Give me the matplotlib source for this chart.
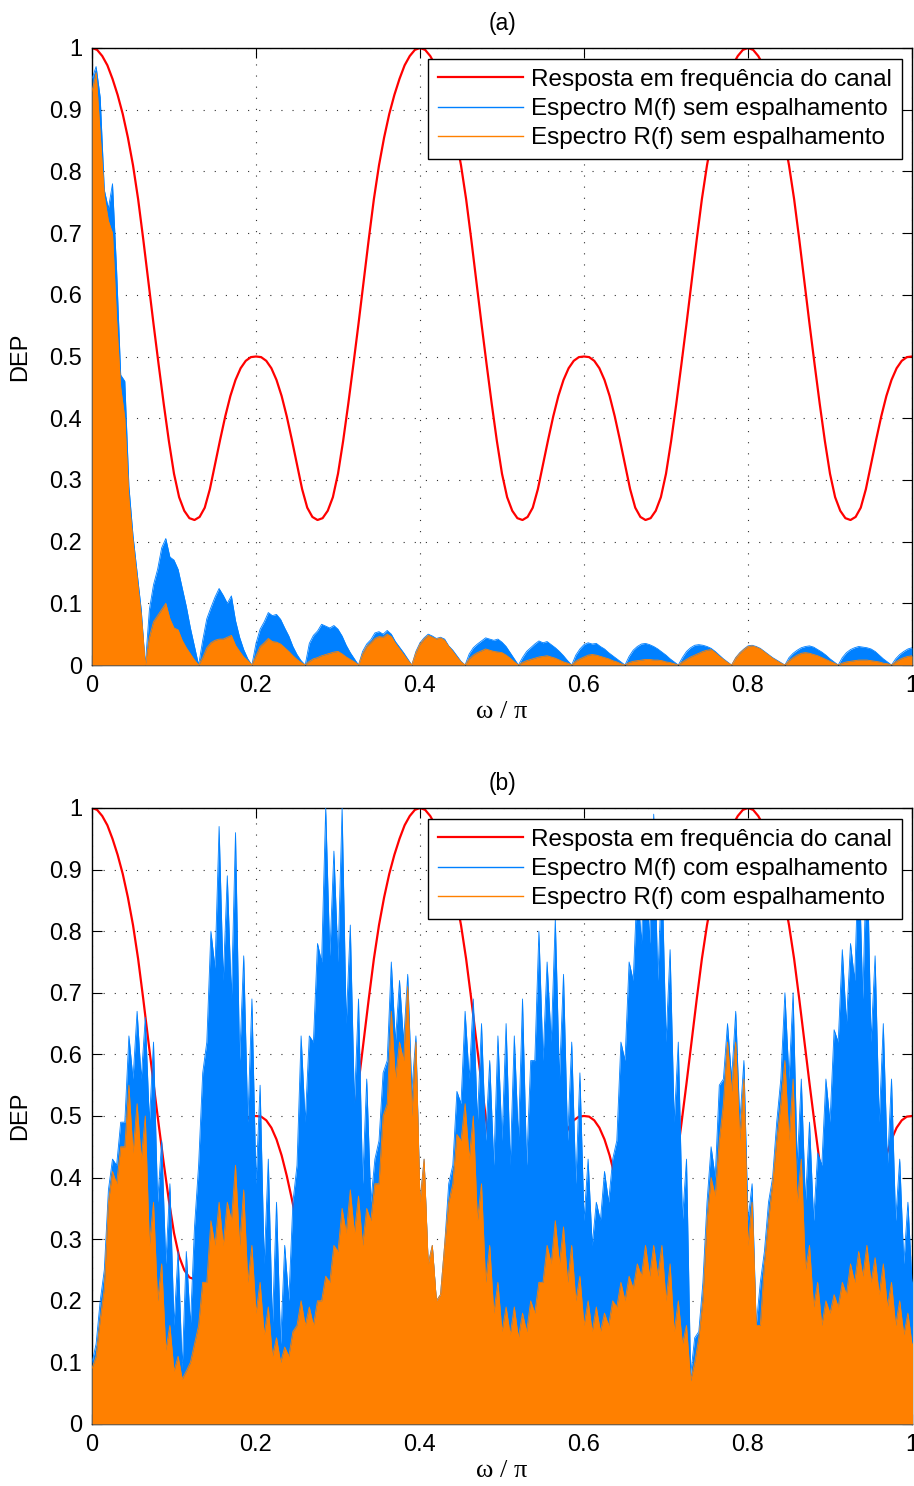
import numpy as np
import matplotlib
matplotlib.use("Agg")
import matplotlib.pyplot as plt
from matplotlib.lines import Line2D

# ---------------- data ----------------
# channel frequency response, sampled every 0.00625 in w/pi
red_resp = [
    1.000, 0.997, 0.987, 0.972, 0.950, 0.924, 0.893, 0.855, 0.810, 0.755, 0.690, 0.621, 0.553, 0.487, 0.423, 0.363,
    0.310, 0.272, 0.250, 0.238, 0.235, 0.240, 0.255, 0.285, 0.325, 0.365, 0.403, 0.436, 0.462, 0.481, 0.493, 0.499, 0.500,
    0.499, 0.493, 0.481, 0.462, 0.436, 0.403, 0.365, 0.325, 0.285, 0.255, 0.240, 0.235, 0.238, 0.250, 0.272, 0.310,
    0.363, 0.423, 0.487, 0.553, 0.621, 0.690, 0.755, 0.810, 0.855, 0.893, 0.924, 0.950, 0.972, 0.987, 0.997, 1.000,
    0.997, 0.987, 0.972, 0.950, 0.924, 0.893, 0.855, 0.810, 0.755, 0.690, 0.621, 0.553, 0.487, 0.423, 0.363,
    0.310, 0.272, 0.250, 0.238, 0.235, 0.240, 0.255, 0.285, 0.325, 0.365, 0.403, 0.436, 0.462, 0.481, 0.493, 0.499, 0.500,
    0.499, 0.493, 0.481, 0.462, 0.436, 0.403, 0.365, 0.325, 0.285, 0.255, 0.240, 0.235, 0.238, 0.250, 0.272, 0.310,
    0.363, 0.423, 0.487, 0.553, 0.621, 0.690, 0.755, 0.810, 0.855, 0.893, 0.924, 0.950, 0.972, 0.987, 0.997, 1.000,
    0.997, 0.987, 0.972, 0.950, 0.924, 0.893, 0.855, 0.810, 0.755, 0.690, 0.621, 0.553, 0.487, 0.423, 0.363,
    0.310, 0.272, 0.250, 0.238, 0.235, 0.240, 0.255, 0.285, 0.325, 0.365, 0.403, 0.436, 0.462, 0.481, 0.493, 0.499, 0.500,
]

# panel (a): spectra without spreading, sampled every 0.005 in w/pi
blue_a = [
    0.95, 0.97, 0.92, 0.77, 0.74, 0.78, 0.64, 0.47, 0.46, 0.29, 0.21, 0.15, 0.09,
    0.0, 0.09, 0.13, 0.155, 0.19, 0.205, 0.175, 0.17, 0.155, 0.125, 0.095, 0.06, 0.03,
    0.0, 0.04, 0.075, 0.093, 0.11, 0.124, 0.113, 0.10, 0.112, 0.072, 0.045, 0.025, 0.01,
    0.0, 0.035, 0.058, 0.07, 0.085, 0.08, 0.082, 0.074, 0.06, 0.047, 0.03, 0.017, 0.007,
    0.0, 0.035, 0.048, 0.055, 0.066, 0.063, 0.06, 0.064, 0.058, 0.047, 0.032, 0.02, 0.01,
    0.0, 0.022, 0.034, 0.041, 0.052, 0.054, 0.05, 0.056, 0.05, 0.038, 0.029, 0.02, 0.01,
    0.0, 0.022, 0.036, 0.044, 0.05, 0.047, 0.043, 0.045, 0.042, 0.031, 0.024, 0.015, 0.006,
    0.0, 0.018, 0.028, 0.034, 0.039, 0.044, 0.042, 0.04, 0.042, 0.037, 0.03, 0.02, 0.01,
    0.0, 0.012, 0.022, 0.028, 0.034, 0.039, 0.036, 0.038, 0.033, 0.028, 0.022, 0.015, 0.007,
    0.0, 0.016, 0.026, 0.033, 0.036, 0.034, 0.035, 0.03, 0.026, 0.02, 0.015, 0.01, 0.005,
    0.0, 0.014, 0.024, 0.03, 0.034, 0.035, 0.033, 0.03, 0.026, 0.021, 0.016, 0.01, 0.005,
    0.0, 0.012, 0.022, 0.028, 0.032, 0.033, 0.032, 0.03, 0.027, 0.022, 0.016, 0.01, 0.005,
    0.0, 0.012, 0.02, 0.026, 0.031, 0.032, 0.03, 0.027, 0.022, 0.017, 0.012, 0.008, 0.004,
    0.0, 0.012, 0.019, 0.024, 0.028, 0.03, 0.031, 0.029, 0.025, 0.021, 0.016, 0.01, 0.005,
    0.0, 0.012, 0.02, 0.025, 0.028, 0.03, 0.029, 0.028, 0.026, 0.022, 0.016, 0.01, 0.005,
    0.0, 0.01, 0.017, 0.022, 0.026, 0.028,
]
orange_a = [
    0.93, 0.96, 0.86, 0.76, 0.72, 0.70, 0.56, 0.45, 0.40, 0.27, 0.20, 0.14, 0.08,
    0.0, 0.045, 0.07, 0.08, 0.09, 0.10, 0.075, 0.06, 0.057, 0.04, 0.028, 0.018, 0.008,
    0.0, 0.012, 0.028, 0.036, 0.04, 0.042, 0.042, 0.045, 0.048, 0.032, 0.022, 0.013, 0.007,
    0.0, 0.015, 0.03, 0.036, 0.043, 0.038, 0.037, 0.034, 0.028, 0.022, 0.015, 0.009, 0.004,
    0.0, 0.006, 0.01, 0.012, 0.015, 0.017, 0.019, 0.021, 0.022, 0.018, 0.013, 0.009, 0.005,
    0.0, 0.018, 0.03, 0.036, 0.043, 0.046, 0.045, 0.05, 0.046, 0.035, 0.026, 0.017, 0.008,
    0.0, 0.02, 0.034, 0.042, 0.048, 0.045, 0.042, 0.044, 0.04, 0.03, 0.022, 0.013, 0.005,
    0.0, 0.01, 0.016, 0.02, 0.023, 0.026, 0.024, 0.022, 0.021, 0.02, 0.016, 0.011, 0.005,
    0.0, 0.004, 0.007, 0.009, 0.011, 0.013, 0.014, 0.015, 0.013, 0.011, 0.008, 0.005, 0.003,
    0.0, 0.006, 0.01, 0.013, 0.016, 0.017, 0.016, 0.014, 0.012, 0.01, 0.007, 0.005, 0.002,
    0.0, 0.004, 0.006, 0.007, 0.008, 0.009, 0.009, 0.008, 0.008, 0.007, 0.005, 0.004, 0.002,
    0.0, 0.005, 0.009, 0.013, 0.016, 0.019, 0.022, 0.024, 0.025, 0.02, 0.014, 0.009, 0.004,
    0.0, 0.011, 0.019, 0.025, 0.03, 0.031, 0.029, 0.026, 0.021, 0.016, 0.011, 0.007, 0.003,
    0.0, 0.007, 0.012, 0.016, 0.019, 0.02, 0.019, 0.017, 0.015, 0.012, 0.009, 0.006, 0.003,
    0.0, 0.003, 0.005, 0.006, 0.007, 0.008, 0.008, 0.008, 0.007, 0.006, 0.005, 0.003, 0.002,
    0.0, 0.005, 0.009, 0.012, 0.014, 0.015,
]

# panel (b): spectra with spreading, sampled every 0.01 in w/pi (spike tops and dense level)
blue_top_b = [
    0.13, 0.25, 0.43, 0.49, 0.63, 0.67, 0.66, 0.62, 0.46, 0.39,
    0.28, 0.28, 0.32, 0.57, 0.80, 0.97, 0.89, 0.96, 0.76, 0.69,
    0.55, 0.43, 0.36, 0.29, 0.36, 0.63, 0.63, 0.78, 1.00, 0.93,
    1.00, 0.81, 0.69, 0.56, 0.43, 0.57, 0.75, 0.72, 0.73, 0.63,
    0.43, 0.29, 0.21, 0.39, 0.54, 0.67, 0.69, 0.65, 0.59, 0.63,
    0.65, 0.63, 0.69, 0.59, 0.80, 0.75, 0.82, 0.73, 0.62, 0.57,
    0.43, 0.36, 0.41, 0.43, 0.62, 0.75, 0.88, 0.95, 0.99, 0.90,
    0.77, 0.62, 0.43, 0.14, 0.23, 0.45, 0.55, 0.65, 0.67, 0.59,
    0.39, 0.23, 0.36, 0.49, 0.70, 0.70, 0.56, 0.49, 0.44, 0.56,
    0.64, 0.77, 0.78, 0.93, 0.95, 0.76, 0.65, 0.56, 0.43, 0.36,
    0.29,
]
blue_base_b = [
    0.10, 0.20, 0.38, 0.42, 0.49, 0.56, 0.56, 0.49, 0.36, 0.26,
    0.16, 0.09, 0.16, 0.42, 0.62, 0.74, 0.72, 0.69, 0.59, 0.49,
    0.39, 0.26, 0.16, 0.13, 0.20, 0.42, 0.49, 0.62, 0.75, 0.76,
    0.75, 0.65, 0.52, 0.39, 0.36, 0.46, 0.59, 0.62, 0.62, 0.54,
    0.36, 0.26, 0.20, 0.29, 0.42, 0.52, 0.56, 0.49, 0.46, 0.42,
    0.46, 0.42, 0.46, 0.42, 0.59, 0.59, 0.62, 0.56, 0.46, 0.39,
    0.33, 0.29, 0.33, 0.36, 0.46, 0.59, 0.72, 0.78, 0.78, 0.72,
    0.62, 0.49, 0.33, 0.08, 0.15, 0.36, 0.40, 0.56, 0.56, 0.49,
    0.33, 0.16, 0.28, 0.40, 0.56, 0.56, 0.42, 0.36, 0.33, 0.42,
    0.49, 0.62, 0.65, 0.72, 0.69, 0.62, 0.49, 0.42, 0.33, 0.26,
    0.23,
]
orange_top_b = [
    0.11, 0.22, 0.41, 0.45, 0.55, 0.52, 0.50, 0.36, 0.26, 0.16,
    0.11, 0.086, 0.13, 0.23, 0.33, 0.36, 0.36, 0.42, 0.38, 0.29,
    0.23, 0.19, 0.14, 0.125, 0.15, 0.20, 0.19, 0.20, 0.24, 0.29,
    0.35, 0.38, 0.37, 0.35, 0.39, 0.50, 0.67, 0.62, 0.71, 0.62,
    0.43, 0.29, 0.21, 0.36, 0.47, 0.52, 0.50, 0.39, 0.29, 0.23,
    0.19, 0.19, 0.18, 0.20, 0.23, 0.29, 0.33, 0.32, 0.29, 0.24,
    0.20, 0.19, 0.18, 0.20, 0.23, 0.24, 0.26, 0.29, 0.29, 0.29,
    0.26, 0.20, 0.16, 0.10, 0.20, 0.40, 0.46, 0.62, 0.62, 0.56,
    0.36, 0.16, 0.33, 0.46, 0.59, 0.56, 0.43, 0.29, 0.23, 0.20,
    0.21, 0.23, 0.26, 0.28, 0.29, 0.27, 0.26, 0.23, 0.20, 0.18,
    0.16,
]
orange_base_b = [
    0.09, 0.17, 0.36, 0.39, 0.45, 0.44, 0.43, 0.29, 0.20, 0.12,
    0.086, 0.073, 0.10, 0.16, 0.23, 0.29, 0.29, 0.33, 0.29, 0.23,
    0.18, 0.145, 0.11, 0.10, 0.11, 0.16, 0.16, 0.16, 0.20, 0.23,
    0.28, 0.31, 0.31, 0.29, 0.33, 0.39, 0.52, 0.56, 0.59, 0.50,
    0.36, 0.26, 0.20, 0.29, 0.39, 0.46, 0.43, 0.33, 0.23, 0.18,
    0.15, 0.145, 0.14, 0.15, 0.18, 0.23, 0.26, 0.26, 0.23, 0.20,
    0.16, 0.15, 0.15, 0.16, 0.19, 0.20, 0.22, 0.24, 0.24, 0.24,
    0.20, 0.15, 0.13, 0.07, 0.14, 0.33, 0.37, 0.52, 0.54, 0.46,
    0.29, 0.16, 0.26, 0.39, 0.52, 0.46, 0.36, 0.25, 0.19, 0.16,
    0.18, 0.19, 0.21, 0.23, 0.24, 0.23, 0.21, 0.19, 0.16, 0.145,
    0.13,
]

x_red = np.linspace(0, 1, len(red_resp))
x_a = np.linspace(0, 1, len(blue_a))
x_b = np.linspace(0, 1, len(blue_top_b))

xticks = [0, 0.2, 0.4, 0.6, 0.8, 1]
xticklabels = ["0", "0.2", "0.4", "0.6", "0.8", "1"]
yticks = [0, 0.1, 0.2, 0.3, 0.4, 0.5, 0.6, 0.7, 0.8, 0.9, 1]
yticklabels = ["0", "0.1", "0.2", "0.3", "0.4", "0.5", "0.6", "0.7", "0.8", "0.9", "1"]

labels_a = ["Resposta em frequência do canal", "Espectro M(f) sem espalhamento",
            "Espectro R(f) sem espalhamento"]
labels_b = ["Resposta em frequência do canal", "Espectro M(f) com espalhamento",
            "Espectro R(f) com espalhamento"]

RED = "#FF0000"
BLUE = "#0080FF"
ORANGE = "#FF8000"

plt.rcParams["font.family"] = ["Liberation Sans", "DejaVu Sans"]

W, H = 914, 1486
fig = plt.figure(figsize=(W / 100, H / 100), dpi=100)
left, right = 92, 912
ax_a = fig.add_axes([left / W, 1 - 665 / H, (right - left) / W, 617 / H])
ax_b = fig.add_axes([left / W, 1 - 1424 / H, (right - left) / W, 616 / H])


def zigzag(x, base, top, half):
    # alternate between the dense level at x_i and the spike top just after it
    xs, ys = [], []
    for xi, b, t in zip(x, base, top):
        xs += [xi, xi + half]
        ys += [b, t]
    return np.array(xs), np.array(ys)


def style(ax, title, labels):
    ax.set_xlim(0, 1)
    ax.set_ylim(0, 1)
    ax.set_xticks(xticks)
    ax.set_xticklabels(xticklabels)
    ax.set_yticks(yticks)
    ax.set_yticklabels(yticklabels)
    ax.tick_params(direction="in", top=True, right=True, length=7, width=0.8,
                   labelsize=17, pad=7)
    ax.set_axisbelow(True)
    ax.grid(True, linestyle=(0, (1, 9)), color="#303030", linewidth=0.8)
    for s in ax.spines.values():
        s.set_linewidth(1.0)
        s.set_color("black")
    ax.set_title(title, fontsize=16.5, pad=13)
    ax.set_xlabel("ω / π", fontsize=19, family=["Liberation Serif", "DejaVu Serif"])
    ax.xaxis.set_label_coords(0.5, -0.058)
    ax.set_ylabel("DEP", fontsize=17)
    ax.yaxis.set_label_coords(-0.074, 0.5)
    handles = [Line2D([], [], color=RED, lw=1.6),
               Line2D([], [], color=BLUE, lw=1.0),
               Line2D([], [], color=ORANGE, lw=1.0)]
    leg = ax.legend(handles, labels, loc="upper right",
                    bbox_to_anchor=(1 - 10 / 820, 1 - 11 / 617),
                    borderaxespad=0, fontsize=17.5, handlelength=3.5,
                    handletextpad=0.35, labelspacing=0.3, borderpad=0.4,
                    fancybox=False, framealpha=1, edgecolor="black")
    leg.get_frame().set_linewidth(1.0)
    leg.set_zorder(10)


# panel (a)
ax_a.plot(x_red, red_resp, color=RED, lw=1.6, zorder=2)
ax_a.fill_between(x_a, 0, blue_a, color=BLUE, lw=0, zorder=3)
ax_a.plot(x_a, blue_a, color=BLUE, lw=0.6, zorder=3)
ax_a.fill_between(x_a, 0, orange_a, color=ORANGE, lw=0, zorder=4)
ax_a.plot(x_a, orange_a, color=ORANGE, lw=0.6, zorder=4)
style(ax_a, "(a)", labels_a)

# panel (b)
ax_b.plot(x_red, red_resp, color=RED, lw=1.6, zorder=2)
bx, by = zigzag(x_b, blue_base_b, blue_top_b, 0.005)
ax_b.fill_between(bx, 0, by, color=BLUE, lw=0, zorder=3)
ax_b.plot(bx, by, color=BLUE, lw=0.6, zorder=3)
ox, oy = zigzag(x_b, orange_base_b, orange_top_b, 0.005)
ax_b.fill_between(ox, 0, oy, color=ORANGE, lw=0, zorder=4)
ax_b.plot(ox, oy, color=ORANGE, lw=0.6, zorder=4)
style(ax_b, "(b)", labels_b)

fig.savefig("out.png", dpi=100)
